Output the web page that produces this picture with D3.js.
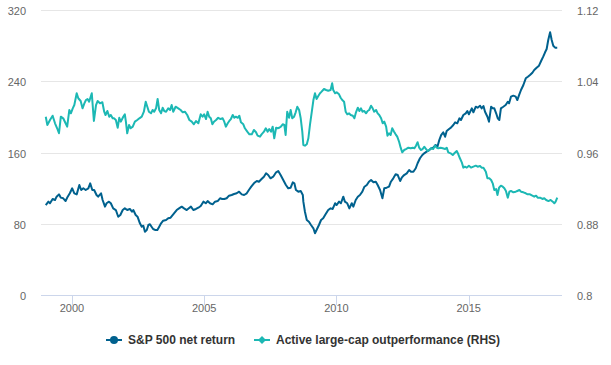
<!DOCTYPE html>
<html><head><meta charset="utf-8">
<script src="https://cdn.jsdelivr.net/npm/d3@7"></script>
<style>body{margin:0;background:#fff;font-family:"Liberation Sans",Arial,sans-serif}</style>
</head><body><svg id="c" width="611" height="365"></svg>
<script>
// S&P 500 net return (LHS) — date as decimal year
const spDates = [1999.01,1999.11,1999.17,1999.27,1999.36,1999.42,1999.51,1999.58,1999.67,1999.76,1999.84,1999.92,2000.01,2000.09,2000.18,2000.28,2000.35,2000.43,2000.52,2000.62,2000.69,2000.77,2000.84,2000.93,2000.99,2001.10,2001.16,2001.25,2001.31,2001.40,2001.47,2001.56,2001.66,2001.75,2001.83,2001.92,2002.00,2002.09,2002.19,2002.27,2002.32,2002.41,2002.48,2002.57,2002.64,2002.70,2002.76,2002.83,2002.89,2002.95,2003.01,2003.07,2003.14,2003.23,2003.30,2003.37,2003.45,2003.56,2003.64,2003.73,2003.86,2003.96,2004.05,2004.15,2004.24,2004.34,2004.42,2004.50,2004.59,2004.69,2004.78,2004.87,2004.97,2005.06,2005.13,2005.22,2005.32,2005.41,2005.51,2005.60,2005.68,2005.76,2005.85,2005.94,2006.04,2006.13,2006.23,2006.32,2006.42,2006.51,2006.61,2006.69,2006.78,2006.88,2006.99,2007.07,2007.17,2007.26,2007.34,2007.42,2007.51,2007.61,2007.72,2007.80,2007.89,2007.99,2008.09,2008.18,2008.27,2008.35,2008.41,2008.47,2008.56,2008.65,2008.73,2008.75,2008.81,2008.88,2008.96,2009.04,2009.13,2009.19,2009.25,2009.34,2009.42,2009.50,2009.59,2009.69,2009.78,2009.86,2009.95,2010.01,2010.10,2010.17,2010.26,2010.32,2010.41,2010.49,2010.58,2010.64,2010.73,2010.81,2010.89,2010.98,2011.06,2011.15,2011.23,2011.31,2011.40,2011.49,2011.56,2011.65,2011.74,2011.81,2011.90,2011.99,2012.06,2012.15,2012.24,2012.32,2012.41,2012.47,2012.56,2012.66,2012.75,2012.82,2012.91,2013.00,2013.07,2013.16,2013.25,2013.32,2013.41,2013.50,2013.58,2013.66,2013.75,2013.82,2013.89,2013.96,2014.04,2014.11,2014.17,2014.26,2014.33,2014.42,2014.49,2014.57,2014.65,2014.71,2014.80,2014.89,2014.95,2015.01,2015.12,2015.18,2015.27,2015.34,2015.43,2015.49,2015.56,2015.62,2015.71,2015.77,2015.85,2015.91,2015.97,2016.04,2016.10,2016.16,2016.22,2016.31,2016.40,2016.48,2016.53,2016.60,2016.69,2016.78,2016.84,2016.91,2016.98,2017.07,2017.16,2017.24,2017.32,2017.41,2017.48,2017.57,2017.66,2017.74,2017.82,2017.89,2017.95,2018.01,2018.08,2018.14,2018.20,2018.27,2018.35];
const spValues = [101,104.8,103,107.8,106.7,110.4,113,109.3,108.6,105.5,110.4,114.2,119.8,114.2,113,123.5,117.9,119.8,117.9,119.8,125.4,117.9,117.9,112.3,110.4,114.2,106.7,99.2,103,104.8,103,97.3,95.4,87.9,89.8,95.4,97.3,95.4,96.6,93.5,95.4,89.8,87.9,80.5,76.7,77.8,71.1,73,78.6,79.4,76.7,74.1,73,73,76.7,80.5,83.4,84.2,86.1,86.8,91.7,95.4,97.3,99.2,97.3,95.4,97.3,99.2,95.4,96.6,98,99.9,104.8,103,105.5,103,101.8,104.8,105.5,108.6,107.8,107.8,108.6,111.5,112.3,113.4,114.2,116,113,112.3,114.2,117.9,121.6,125.4,128,127.2,130.2,132.8,136.6,134.7,131,132.8,137.8,139.2,134.7,129.1,123.5,119.8,120.5,126.5,125.4,117.9,116,116.8,112.3,104.8,93.5,84.2,82.3,78.6,74.9,69.3,73,78.6,84.2,86.1,90.6,95.4,97.3,96.6,103,101,104.8,103,110.4,104.8,103,97.3,103,99.2,106.7,110.4,112.3,116,121.6,123.5,127.2,129.1,126.5,127.2,123.5,117.9,108.6,119.8,120.5,121.6,127.2,131,135.5,134.7,128,131.7,134.7,136.6,140.4,138.4,138.4,142.3,147.9,153.5,157.2,159.1,160.9,162.5,164.5,165.5,168.4,166.5,174,179.6,182.7,177.7,184.1,186.4,187.9,190.9,193.9,192.8,198.4,196.5,202.1,204,206.6,202.9,209.6,205.1,211.4,210.3,212.5,209.6,212.2,205.8,200.2,194.6,211.4,209.6,209.6,204,198.4,196.5,209.6,211.4,213.3,217,215.2,222.7,223.8,222.7,218.9,224.6,230.2,235.8,243.3,245.1,247,249.6,252.6,255.2,257.5,262.7,267.6,272.5,276.2,286.3,295,286.3,279.9,277.7,277.7];

// Active large-cap outperformance (RHS)
const apDates = [1999.01,1999.07,1999.17,1999.27,1999.36,1999.44,1999.51,1999.58,1999.67,1999.76,1999.82,1999.90,1999.96,2000.03,2000.09,2000.18,2000.24,2000.33,2000.40,2000.47,2000.53,2000.59,2000.65,2000.75,2000.83,2000.91,2000.97,2001.06,2001.15,2001.22,2001.27,2001.34,2001.41,2001.47,2001.54,2001.59,2001.66,2001.73,2001.79,2001.85,2001.94,2002.00,2002.04,2002.09,2002.16,2002.22,2002.30,2002.38,2002.47,2002.55,2002.64,2002.72,2002.79,2002.85,2002.91,2002.99,2003.05,2003.11,2003.18,2003.24,2003.30,2003.37,2003.43,2003.49,2003.56,2003.64,2003.71,2003.77,2003.83,2003.92,2004.02,2004.11,2004.19,2004.27,2004.36,2004.44,2004.53,2004.61,2004.69,2004.78,2004.87,2004.94,2005.00,2005.07,2005.13,2005.19,2005.25,2005.31,2005.37,2005.45,2005.53,2005.62,2005.70,2005.76,2005.82,2005.89,2005.95,2006.01,2006.08,2006.14,2006.20,2006.27,2006.33,2006.39,2006.48,2006.54,2006.63,2006.71,2006.80,2006.88,2006.96,2007.02,2007.11,2007.17,2007.26,2007.33,2007.40,2007.46,2007.53,2007.59,2007.65,2007.72,2007.78,2007.84,2007.90,2007.97,2008.03,2008.08,2008.14,2008.21,2008.27,2008.33,2008.40,2008.46,2008.52,2008.59,2008.65,2008.71,2008.75,2008.81,2008.88,2008.94,2009.00,2009.07,2009.13,2009.19,2009.25,2009.32,2009.38,2009.44,2009.53,2009.61,2009.69,2009.78,2009.84,2009.88,2009.95,2010.01,2010.10,2010.16,2010.22,2010.29,2010.35,2010.41,2010.48,2010.54,2010.62,2010.68,2010.74,2010.81,2010.87,2010.93,2010.99,2011.05,2011.12,2011.18,2011.24,2011.31,2011.37,2011.43,2011.50,2011.56,2011.62,2011.69,2011.75,2011.81,2011.88,2011.93,2011.99,2012.05,2012.11,2012.18,2012.24,2012.30,2012.37,2012.43,2012.49,2012.56,2012.63,2012.72,2012.81,2012.89,2012.95,2013.01,2013.07,2013.13,2013.20,2013.26,2013.32,2013.39,2013.45,2013.51,2013.58,2013.66,2013.73,2013.79,2013.85,2013.94,2014.02,2014.11,2014.17,2014.23,2014.32,2014.40,2014.46,2014.55,2014.61,2014.67,2014.74,2014.80,2014.86,2014.93,2015.01,2015.09,2015.18,2015.27,2015.34,2015.43,2015.49,2015.56,2015.65,2015.71,2015.78,2015.85,2015.91,2015.97,2016.04,2016.09,2016.15,2016.22,2016.29,2016.35,2016.41,2016.48,2016.54,2016.60,2016.69,2016.78,2016.84,2016.92,2016.98,2017.07,2017.16,2017.23,2017.32,2017.41,2017.48,2017.55,2017.61,2017.70,2017.79,2017.86,2017.93,2018.02,2018.10,2018.18,2018.24,2018.29,2018.35];
const apValues = [1.0002,0.9909,0.9965,1.0013,0.9928,0.9872,0.9816,1.0002,0.9984,0.9928,0.989,1.0077,1.004,1.0096,1.0133,1.0265,1.0209,1.0178,1.0096,1.0152,1.0189,1.0201,1.017,1.0265,0.9954,1.0133,1.0178,1.0152,1.0164,1.0058,1.0021,1.0066,1.0002,1.0021,0.9984,0.9984,0.9965,0.9878,0.999,0.9946,1.0002,1.0029,0.9946,0.9816,0.9909,0.9872,0.989,0.9946,0.9965,0.9984,1.0002,1.0058,1.017,1.0114,1.0058,1.004,1.0077,1.0058,1.0096,1.0201,1.0077,1.004,1.0103,1.0066,1.0058,1.0096,1.0077,1.0133,1.0058,1.0114,1.0096,1.0077,1.0051,1.0058,1.0021,0.9965,0.9946,0.9917,0.9954,0.9928,1.0029,1.0002,1.0029,0.9976,1.0058,1.0002,0.9984,0.9917,0.9946,0.9965,0.999,0.9976,0.9984,0.9946,0.989,0.9928,0.9954,0.9976,1.0021,0.999,1.0002,0.999,1.0013,0.9939,0.9917,0.9872,0.9834,0.9804,0.9804,0.9853,0.9827,0.9789,0.9778,0.9804,0.9834,0.9872,0.9834,0.9864,0.9834,0.989,0.976,0.9878,0.9872,0.9878,0.989,0.9917,0.9909,0.9797,1.0058,0.999,1.0077,0.9984,1.0002,1.0051,1.0114,1.0077,0.9984,0.9834,0.9684,0.9677,0.9692,0.976,0.9909,1.0058,1.0189,1.0265,1.0201,1.0238,1.0265,1.0283,1.0313,1.0302,1.0294,1.0302,1.0377,1.0302,1.0265,1.0276,1.0253,1.0215,1.0189,1.017,1.0058,1.0029,1.004,1.0021,1.0013,0.9984,1.0051,1.0103,1.0066,1.0096,1.0058,1.0066,1.004,1.0066,1.0077,1.0125,1.0096,1.0058,1.0077,1.004,1.0021,0.9984,0.9928,0.9946,0.989,0.9789,0.9816,0.9797,0.9872,0.9834,0.9804,0.9778,0.9721,0.9654,0.9602,0.9628,0.9639,0.9654,0.9647,0.9654,0.9647,0.9677,0.9715,0.9654,0.9628,0.9639,0.9665,0.9639,0.9617,0.9628,0.9647,0.964,0.9677,0.9654,0.9647,0.9654,0.9647,0.9639,0.9654,0.9602,0.9591,0.9572,0.9591,0.9617,0.958,0.9535,0.949,0.943,0.9441,0.943,0.9452,0.943,0.9441,0.9452,0.9441,0.9448,0.943,0.943,0.9384,0.931,0.931,0.9291,0.9254,0.9179,0.919,0.9123,0.9205,0.9227,0.9216,0.9198,0.9168,0.9093,0.916,0.9168,0.9153,0.916,0.9168,0.9179,0.916,0.9153,0.9142,0.9131,0.9131,0.9115,0.9104,0.9115,0.9093,0.9093,0.9078,0.9086,0.9067,0.9055,0.9067,0.9048,0.903,0.9048,0.9093];

const leftTicks = [0, 80, 160, 240, 320];
const rightTicks = [0.8, 0.88, 0.96, 1.04, 1.12];
const yearTicks = [2000, 2005, 2010, 2015];
const seriesNames = ["S&P 500 net return", "Active large-cap outperformance (RHS)"];
const colors = ["#00618e", "#1cb8b4"];

const svg = d3.select("#c");
const x = d3.scaleLinear().domain([1998.83, 2018.53]).range([41, 562]);
const yL = d3.scaleLinear().domain([0, 320]).range([295, 10]);
const yR = d3.scaleLinear().domain([0.8, 1.12]).range([295, 10]);

// gridlines
svg.append("g").selectAll("line").data(leftTicks.slice(1)).join("line")
  .attr("x1", 41).attr("x2", 562)
  .attr("y1", d => Math.round(yL(d)) + 0.5).attr("y2", d => Math.round(yL(d)) + 0.5)
  .attr("stroke", "#e6e6e6").attr("stroke-width", 1);

// x axis line + ticks
svg.append("line").attr("x1", 41).attr("x2", 562).attr("y1", 295.5).attr("y2", 295.5)
  .attr("stroke", "#ccd6eb");
svg.append("g").selectAll("line").data(yearTicks).join("line")
  .attr("x1", d => Math.round(x(d)) + 0.5).attr("x2", d => Math.round(x(d)) + 0.5)
  .attr("y1", 295).attr("y2", 305).attr("stroke", "#ccd6eb");
svg.append("g").selectAll("text").data(yearTicks).join("text")
  .attr("x", d => x(d)).attr("y", 312).attr("text-anchor", "middle")
  .attr("font-size", 11).attr("fill", "#666").text(d => d);

// left labels
svg.append("g").selectAll("text").data(leftTicks).join("text")
  .attr("x", 26).attr("y", d => yL(d) + 5).attr("text-anchor", "end")
  .attr("font-size", 11).attr("fill", "#666").text(d => d);
// right labels
svg.append("g").selectAll("text").data(rightTicks).join("text")
  .attr("x", 577).attr("y", d => yR(d) + 5).attr("text-anchor", "start")
  .attr("font-size", 11).attr("fill", "#666").text(d => d3.format("")(+d.toFixed(2)));

// lines
const sp = spDates.map((d, i) => [d, spValues[i]]);
const ap = apDates.map((d, i) => [d, apValues[i]]);
svg.append("path").datum(sp).attr("fill", "none").attr("stroke", colors[0]).attr("stroke-width", 2)
  .attr("stroke-linejoin", "round").attr("d", d3.line().x(d => x(d[0])).y(d => yL(d[1])));
svg.append("path").datum(ap).attr("fill", "none").attr("stroke", colors[1]).attr("stroke-width", 2)
  .attr("stroke-linejoin", "round").attr("d", d3.line().x(d => x(d[0])).y(d => yR(d[1])));

// legend
const lg = svg.append("g");
const items = [{x: 106, tx: 128}, {x: 254, tx: 276}];
items.forEach((it, i) => {
  lg.append("line").attr("x1", it.x).attr("x2", it.x + 16).attr("y1", 340).attr("y2", 340)
    .attr("stroke", colors[i]).attr("stroke-width", 2);
  if (i === 0) {
    lg.append("circle").attr("cx", it.x + 8).attr("cy", 340).attr("r", 4).attr("fill", colors[i]);
  } else {
    lg.append("path").attr("d", d3.symbol(d3.symbolDiamond2, 40)()).attr("transform", `translate(${it.x + 8},340)`)
      .attr("fill", colors[i]);
  }
  lg.append("text").attr("x", it.tx).attr("y", 344).attr("font-size", 12).attr("font-weight", "bold")
    .attr("fill", "#333").text(seriesNames[i]);
});
</script></body></html>
